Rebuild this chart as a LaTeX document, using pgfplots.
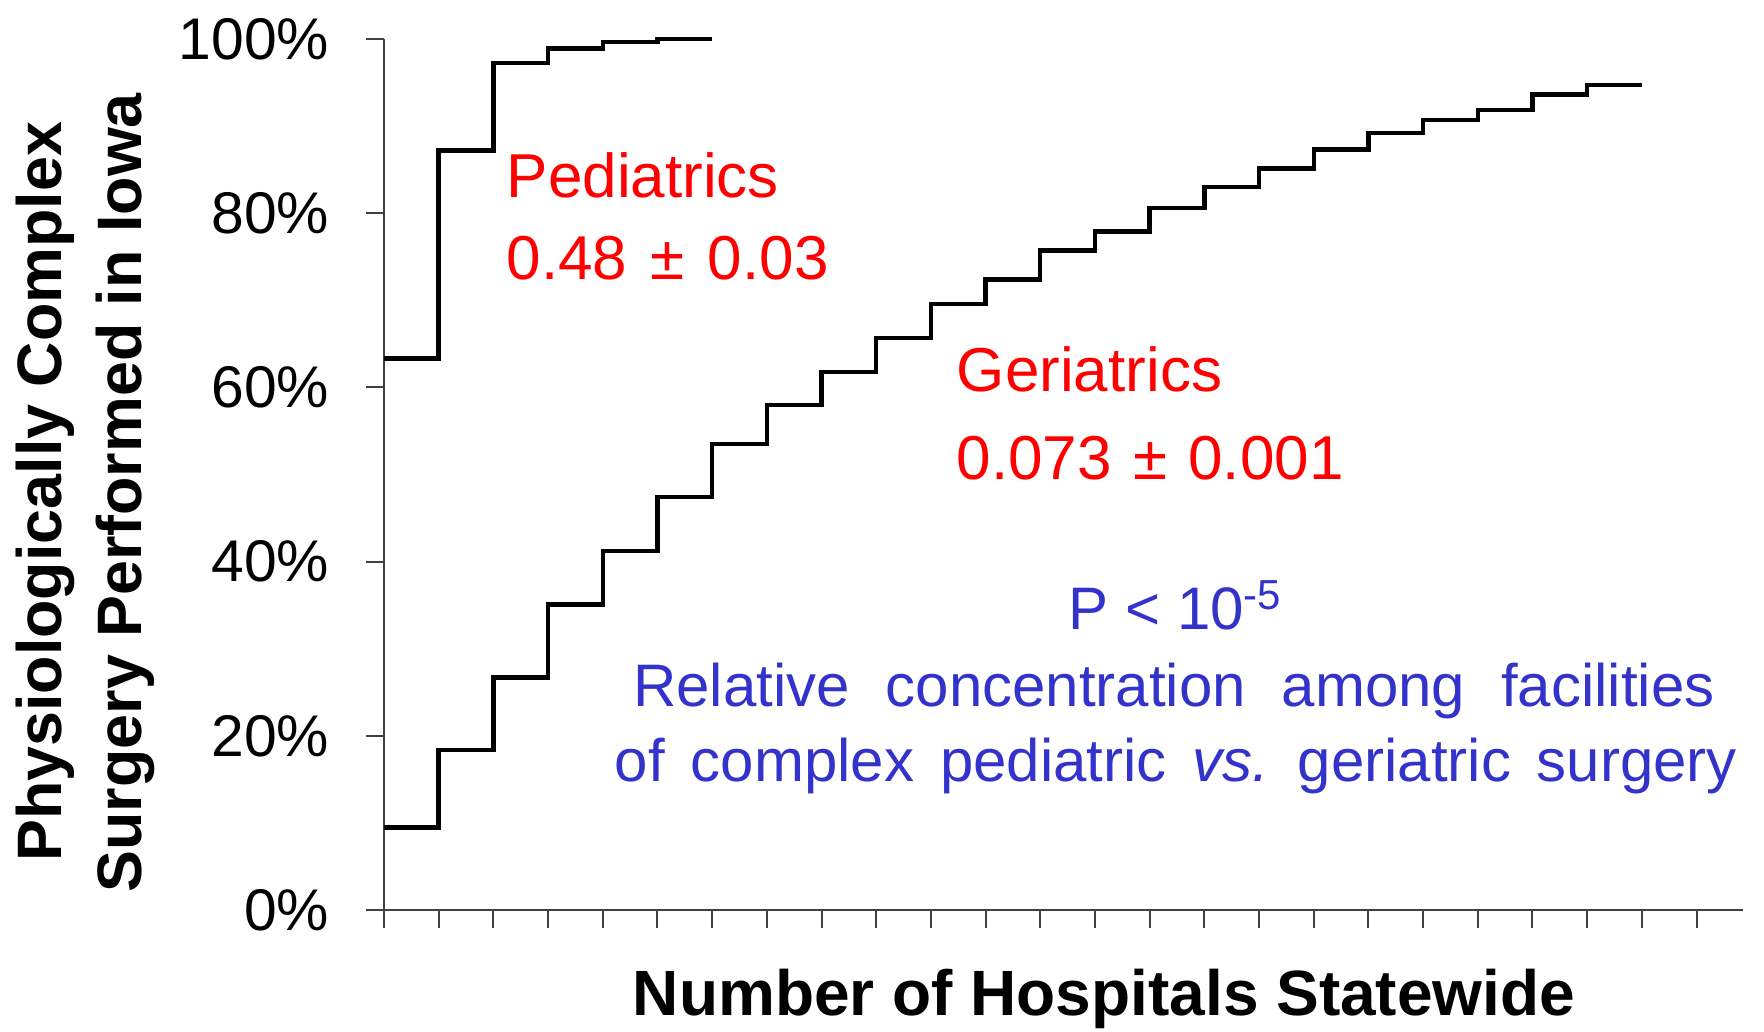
\documentclass[border=0pt]{standalone}
\usepackage{pgfplots}
\pgfplotsset{compat=1.18}
\usepackage{fontspec}
\setmainfont{Liberation Sans}
\definecolor{txtred}{RGB}{255,0,0}
\definecolor{txtblue}{RGB}{51,51,204}
\begin{document}
\begin{tikzpicture}
\useasboundingbox (-96pt,-30.175pt) rectangle (345pt,227.575pt);
\begin{axis}[
  at={(0pt,0pt)}, anchor=south west,
  scale only axis, width=339.75pt, height=217.875pt,
  xmin=0, xmax=24.85, ymin=0, ymax=100,
  axis x line=bottom, axis y line=left,
  axis line style={-, line width=0.5pt, color=black!75},
  xtick={0,...,24}, xticklabels={},
  ytick={0,20,...,100},
  yticklabel={\pgfmathprintnumber{\tick}\%},
  tick align=outside, major tick length=4.5pt,
  tick style={line width=0.5pt, black!75},
  /pgf/number format/assume math mode=true,
  ticklabel style={font=\fontsize{14.7}{17}\selectfont},
  yticklabel style={anchor=east, inner sep=0pt, xshift=-9pt},
  clip=false,
]
\addplot[const plot, black, line width=1.1pt] coordinates {
  (0,63.3) (1,87.2) (2,97.2) (3,98.9) (4,99.6) (5,100) (6,100)
};
\addplot[const plot, black, line width=1.1pt] coordinates {
  (0,9.5) (1,18.4) (2,26.7) (3,35.1) (4,41.2) (5,47.4) (6,53.5) (7,58.0)
  (8,61.8) (9,65.7) (10,69.6) (11,72.4) (12,75.7) (13,77.9) (14,80.6)
  (15,83.0) (16,85.1) (17,87.3) (18,89.2) (19,90.7) (20,91.8) (21,93.6)
  (22,94.7) (23,94.7)
};
\end{axis}
% annotations
\node[anchor=base west, inner sep=0pt, text=txtred, font=\fontsize{15.5}{18}\selectfont] at (30.5pt,178.3pt) {Pediatrics};
\node[anchor=base west, inner sep=0pt, text=txtred, font=\fontsize{15.5}{18}\selectfont] at (30.5pt,157.8pt) {0.48\hspace{1.5pt} ±\hspace{1.5pt} 0.03};
\node[anchor=base west, inner sep=0pt, text=txtred, font=\fontsize{15.5}{18}\selectfont] at (143pt,129.7pt) {Geriatrics};
\node[anchor=base west, inner sep=0pt, text=txtred, font=\fontsize{15.5}{18}\selectfont] at (143pt,107.6pt) {0.073\hspace{1pt} ±\hspace{1pt} 0.001};
\node[anchor=base, inner sep=0pt, text=txtblue, font=\fontsize{15}{18}\selectfont] at (198pt,70.1pt) {P < 10\textsuperscript{-5}};
\node[anchor=base, inner sep=0pt, text=txtblue, font=\fontsize{15}{18}\selectfont] at (197.5pt,51pt) {Relative\hspace{4.8pt} concentration\hspace{4.8pt} among\hspace{4.8pt} facilities};
\node[anchor=base, inner sep=0pt, text=txtblue, font=\fontsize{15}{18}\selectfont] at (198pt,32.1pt) {of\hspace{2.3pt} complex\hspace{2.3pt} pediatric\hspace{2.3pt} \textit{vs.}\hspace{1.5pt} geriatric\hspace{2.3pt} surgery};
% axis titles
\node[anchor=base, inner sep=0pt, font=\bfseries\fontsize{16}{19}\selectfont] at (180pt,-26.4pt) {Number of Hospitals Statewide};
\node[anchor=base, inner sep=0pt, rotate=90, font=\bfseries\fontsize{15.7}{19}\selectfont] at (-80.6pt,104.6pt) {Physiologically Complex};
\node[anchor=base, inner sep=0pt, rotate=90, font=\bfseries\fontsize{15.7}{19}\selectfont] at (-60.6pt,104.4pt) {Surgery Performed in Iowa};
\end{tikzpicture}
\end{document}
